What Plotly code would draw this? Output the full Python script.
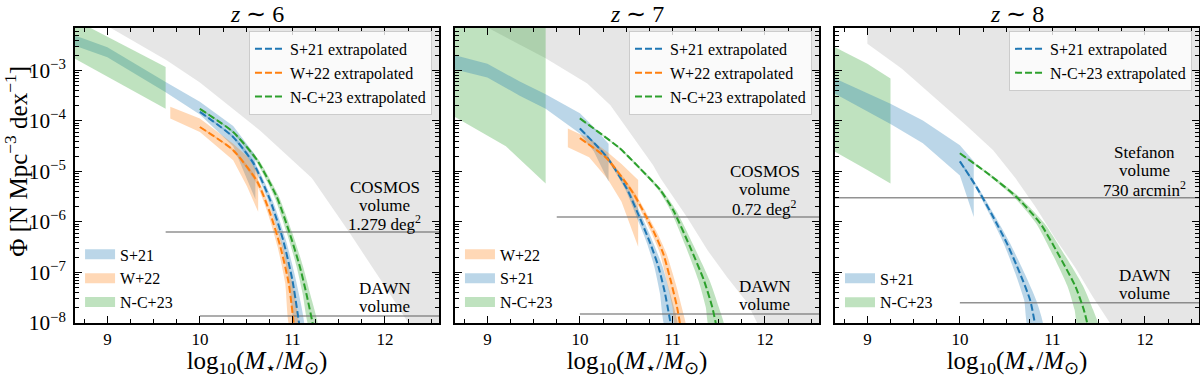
import numpy as np
import plotly.graph_objects as go
from plotly.subplots import make_subplots

FONT = "Liberation Serif"
BLUE, ORANGE, GREEN = "#1f77b4", "#ff7f0e", "#2ca02c"
BLUE_F = "rgba(31,119,180,0.3)"
ORANGE_F = "rgba(255,127,14,0.3)"
GREEN_F = "rgba(44,160,44,0.3)"
GRAY_F = "rgba(128,128,128,0.2)"

X_RANGE = [8.65, 12.585]
LOGPHI_RANGE = [-8.0, -2.16]

# ---------------- z ~ 6 ----------------  (all y values are log10 Phi)
z6_s21_x = [8.65, 9.0, 9.63, 10.0, 10.36, 10.6]
z6_s21_hi = [-2.31, -2.54, -3.23, -3.62, -4.10, -4.68]
z6_s21_lo = [-2.51, -2.74, -3.43, -3.87, -4.50, -5.55]
z6_w22_x = [9.68, 10.0, 10.36, 10.51, 10.63]
z6_w22_hi = [-3.72, -3.95, -4.45, -4.70, -5.04]
z6_w22_lo = [-3.95, -4.22, -4.78, -5.30, -5.80]
z6_nc23_x = [8.65, 9.63]
z6_nc23_hi = [-2.00, -2.93]
z6_nc23_lo = [-2.77, -3.76]

z6_s21_ex_x = [10.0, 10.36, 10.58, 10.76, 10.9, 11.0, 11.08]
z6_s21_ex_y = [-3.82, -4.32, -4.84, -5.57, -6.36, -7.15, -8.1]
z6_s21_ex_dx = [0.01, 0.015, 0.02, 0.025, 0.03, 0.038, 0.045]
z6_w22_ex_x = [10.0, 10.36, 10.62, 10.76, 10.87, 10.96, 11.02]
z6_w22_ex_y = [-4.12, -4.58, -5.2, -5.83, -6.49, -7.21, -8.1]
z6_w22_ex_dx = [0.01, 0.015, 0.02, 0.025, 0.03, 0.038, 0.045]
z6_nc23_ex_x = [10.0, 10.36, 10.62, 10.83, 10.97, 11.08, 11.15, 11.23]
z6_nc23_ex_y = [-3.76, -4.22, -4.78, -5.5, -6.22, -6.88, -7.41, -8.1]
z6_nc23_ex_dx = [0.01, 0.015, 0.02, 0.025, 0.03, 0.035, 0.04, 0.045]

z6_max_x = [9.0, 9.3, 9.64, 10.0, 10.65, 11.21, 11.62, 12.05, 12.27]
z6_max_y = [-2.12, -2.44, -2.80, -3.24, -4.19, -5.13, -6.22, -7.41, -8.05]

z6_survey_from, z6_survey_phi = 9.63, -6.2
z6_dawn_from, z6_dawn_phi = 10.0, -7.86

# ---------------- z ~ 7 ----------------
z7_s21_x = [8.65, 9.0, 9.35, 9.63, 10.0, 10.15, 10.31]
z7_s21_hi = [-2.70, -2.87, -3.22, -3.47, -3.85, -4.12, -4.45]
z7_s21_lo = [-2.98, -3.14, -3.50, -3.76, -4.25, -4.60, -5.20]
z7_w22_x = [9.87, 10.1, 10.3, 10.45, 10.63]
z7_w22_hi = [-4.15, -4.35, -4.62, -4.85, -5.17]
z7_w22_lo = [-4.52, -4.72, -5.15, -5.60, -6.49]
z7_nc23_x = [8.65, 9.2, 9.63]
z7_nc23_hi = [-1.9, -1.95, -2.0]
z7_nc23_lo = [-3.92, -4.50, -5.24]

z7_s21_ex_x = [10.0, 10.29, 10.51, 10.65, 10.76, 10.85, 10.92, 10.99]
z7_s21_ex_y = [-4.15, -4.71, -5.35, -5.93, -6.42, -6.89, -7.41, -8.1]
z7_s21_ex_dx = [0.01, 0.015, 0.02, 0.03, 0.035, 0.045, 0.055, 0.065]
z7_w22_ex_x = [10.0, 10.29, 10.58, 10.79, 10.90, 10.99, 11.05, 11.09]
z7_w22_ex_y = [-4.34, -4.74, -5.44, -6.16, -6.62, -7.22, -7.68, -8.1]
z7_w22_ex_dx = [0.01, 0.015, 0.02, 0.03, 0.035, 0.045, 0.05, 0.055]
z7_nc23_ex_x = [10.0, 10.43, 10.65, 10.87, 11.01, 11.19, 11.34, 11.43, 11.48]
z7_nc23_ex_y = [-3.95, -4.54, -4.94, -5.37, -5.77, -6.49, -7.15, -7.68, -8.1]
z7_nc23_ex_dx = [0.01, 0.012, 0.015, 0.02, 0.03, 0.045, 0.06, 0.07, 0.08]

z7_max_x = [9.0, 9.63, 10.08, 10.33, 10.79, 10.87, 11.16, 11.38, 11.59, 11.81, 11.93]
z7_max_y = [-2.15, -2.76, -3.26, -3.69, -4.87, -5.13, -5.91, -6.56, -7.09, -7.60, -8.05]

z7_survey_from, z7_survey_phi = 9.75, -5.90
z7_dawn_from, z7_dawn_phi = 10.0, -7.82

# ---------------- z ~ 8 ----------------
z8_s21_x = [8.65, 9.25, 9.6, 10.0, 10.15]
z8_s21_hi = [-3.16, -3.66, -3.99, -4.48, -4.80]
z8_s21_lo = [-3.46, -4.06, -4.44, -5.08, -5.90]
z8_nc23_x = [8.65, 9.0, 9.25]
z8_nc23_hi = [-2.54, -2.87, -3.16]
z8_nc23_lo = [-4.61, -4.97, -5.24]

z8_s21_ex_x = [10.0, 10.18, 10.36, 10.51, 10.65, 10.76, 10.82]
z8_s21_ex_y = [-4.80, -5.31, -5.90, -6.43, -7.02, -7.55, -8.1]
z8_s21_ex_dx = [0.01, 0.015, 0.025, 0.035, 0.05, 0.065, 0.08]
z8_nc23_ex_x = [10.0, 10.33, 10.61, 10.87, 11.08, 11.25, 11.34, 11.39]
z8_nc23_ex_y = [-4.64, -5.08, -5.50, -6.03, -6.69, -7.28, -7.74, -8.1]
z8_nc23_ex_dx = [0.01, 0.02, 0.03, 0.045, 0.065, 0.085, 0.1, 0.11]

z8_max_x = [9.0, 9.0, 9.37, 9.76, 10.07, 10.36, 10.60, 10.82, 11.03, 11.25, 11.44, 11.64]
z8_max_y = [-2.0, -2.47, -2.96, -3.59, -4.09, -4.58, -5.13, -5.71, -6.32, -6.91, -7.49, -8.05]

z8_survey_from, z8_survey_phi = 8.65, -5.52
z8_dawn_from, z8_dawn_phi = 10.0, -7.60

titles = ["<i>z</i> ∼ 6", "<i>z</i> ∼ 7", "<i>z</i> ∼ 8"]
survey_labels = [["COSMOS", "volume", "1.279 deg<sup>2</sup>"],
                 ["COSMOS", "volume", "0.72 deg<sup>2</sup>"],
                 ["Stefanon", "volume", "730 arcmin<sup>2</sup>"]]
dawn_label = ["DAWN", "volume"]


def phi(logs):
    return [10.0 ** v for v in logs]


fig = make_subplots(rows=1, cols=3, shared_yaxes=True, horizontal_spacing=0.01423)


def add_region(col, x, y):
    # excluded region: everything above the boundary
    xs = list(x) + [X_RANGE[1] + 0.2, X_RANGE[1] + 0.2, x[0]]
    ys = list(y) + [LOGPHI_RANGE[0] - 0.2, LOGPHI_RANGE[1] + 0.2, LOGPHI_RANGE[1] + 0.2]
    fig.add_trace(go.Scatter(x=xs, y=phi(ys), mode="lines", fill="toself", fillcolor=GRAY_F,
                             line=dict(width=0), showlegend=False, hoverinfo="skip"), row=1, col=col)


def add_band(col, x, hi, lo, color):
    fig.add_trace(go.Scatter(x=list(x) + list(x)[::-1], y=phi(list(hi) + list(lo)[::-1]),
                             mode="lines", fill="toself", fillcolor=color, line=dict(width=0),
                             showlegend=False, hoverinfo="skip"), row=1, col=col)


def add_extrap_band(col, x, y, dx, color):
    left = [a - d for a, d in zip(x, dx)]
    right = [a + d for a, d in zip(x, dx)]
    fig.add_trace(go.Scatter(x=left + right[::-1], y=phi(list(y) + list(y)[::-1]),
                             mode="lines", fill="toself", fillcolor=color,
                             line=dict(width=0, shape="spline", smoothing=0.6),
                             showlegend=False, hoverinfo="skip"), row=1, col=col)


def add_dashed(col, x, y, color, name, legend):
    fig.add_trace(go.Scatter(x=x, y=phi(y), mode="lines", name=name, legend=legend,
                             line=dict(color=color, width=2, dash="7px,3px", shape="spline", smoothing=0.6),
                             hoverinfo="skip"), row=1, col=col)


def add_key(col, name, color, legend):
    fig.add_trace(go.Scatter(x=[None], y=[None], mode="lines", name=name, legend=legend,
                             line=dict(color=color, width=10)), row=1, col=col)


def add_hline(col, x0, logphi):
    fig.add_trace(go.Scatter(x=[x0, X_RANGE[1] + 0.2], y=phi([logphi, logphi]), mode="lines",
                             line=dict(color="rgba(110,110,110,0.75)", width=1.5),
                             showlegend=False, hoverinfo="skip"), row=1, col=col)


# ---- panel 1 ----
add_region(1, z6_max_x, z6_max_y)
add_band(1, z6_s21_x, z6_s21_hi, z6_s21_lo, BLUE_F)
add_band(1, z6_w22_x, z6_w22_hi, z6_w22_lo, ORANGE_F)
add_band(1, z6_nc23_x, z6_nc23_hi, z6_nc23_lo, GREEN_F)
add_extrap_band(1, z6_s21_ex_x, z6_s21_ex_y, z6_s21_ex_dx, BLUE_F)
add_extrap_band(1, z6_w22_ex_x, z6_w22_ex_y, z6_w22_ex_dx, ORANGE_F)
add_extrap_band(1, z6_nc23_ex_x, z6_nc23_ex_y, z6_nc23_ex_dx, GREEN_F)
add_hline(1, z6_survey_from, z6_survey_phi)
add_hline(1, z6_dawn_from, z6_dawn_phi)
add_key(1, "S+21", BLUE_F, "legend")
add_key(1, "W+22", ORANGE_F, "legend")
add_key(1, "N-C+23", GREEN_F, "legend")
add_dashed(1, z6_s21_ex_x, z6_s21_ex_y, BLUE, "S+21 extrapolated", "legend2")
add_dashed(1, z6_w22_ex_x, z6_w22_ex_y, ORANGE, "W+22 extrapolated", "legend2")
add_dashed(1, z6_nc23_ex_x, z6_nc23_ex_y, GREEN, "N-C+23 extrapolated", "legend2")

# ---- panel 2 ----
add_region(2, z7_max_x, z7_max_y)
add_band(2, z7_nc23_x, z7_nc23_hi, z7_nc23_lo, GREEN_F)
add_band(2, z7_s21_x, z7_s21_hi, z7_s21_lo, BLUE_F)
add_band(2, z7_w22_x, z7_w22_hi, z7_w22_lo, ORANGE_F)
add_extrap_band(2, z7_s21_ex_x, z7_s21_ex_y, z7_s21_ex_dx, BLUE_F)
add_extrap_band(2, z7_w22_ex_x, z7_w22_ex_y, z7_w22_ex_dx, ORANGE_F)
add_extrap_band(2, z7_nc23_ex_x, z7_nc23_ex_y, z7_nc23_ex_dx, GREEN_F)
add_hline(2, z7_survey_from, z7_survey_phi)
add_hline(2, z7_dawn_from, z7_dawn_phi)
add_key(2, "W+22", ORANGE_F, "legend3")
add_key(2, "S+21", BLUE_F, "legend3")
add_key(2, "N-C+23", GREEN_F, "legend3")
add_dashed(2, z7_s21_ex_x, z7_s21_ex_y, BLUE, "S+21 extrapolated", "legend4")
add_dashed(2, z7_w22_ex_x, z7_w22_ex_y, ORANGE, "W+22 extrapolated", "legend4")
add_dashed(2, z7_nc23_ex_x, z7_nc23_ex_y, GREEN, "N-C+23 extrapolated", "legend4")

# ---- panel 3 ----
add_region(3, z8_max_x, z8_max_y)
add_band(3, z8_nc23_x, z8_nc23_hi, z8_nc23_lo, GREEN_F)
add_band(3, z8_s21_x, z8_s21_hi, z8_s21_lo, BLUE_F)
add_extrap_band(3, z8_s21_ex_x, z8_s21_ex_y, z8_s21_ex_dx, BLUE_F)
add_extrap_band(3, z8_nc23_ex_x, z8_nc23_ex_y, z8_nc23_ex_dx, GREEN_F)
add_hline(3, z8_survey_from, z8_survey_phi)
add_hline(3, z8_dawn_from, z8_dawn_phi)
add_key(3, "S+21", BLUE_F, "legend5")
add_key(3, "N-C+23", GREEN_F, "legend5")
add_dashed(3, z8_s21_ex_x, z8_s21_ex_y, BLUE, "S+21 extrapolated", "legend6")
add_dashed(3, z8_nc23_ex_x, z8_nc23_ex_y, GREEN, "N-C+23 extrapolated", "legend6")

# ---- axes ----
axis_common = dict(showline=True, linecolor="black", linewidth=1.5, mirror="allticks",
                   ticks="inside", ticklen=7, tickwidth=1.2, tickcolor="black",
                   showgrid=False, zeroline=False, automargin=False,
                   tickfont=dict(family=FONT, size=17, color="black"))
xtitle = "log<sub>10</sub>(<i>M</i><sub>⋆</sub>/<i>M</i><sub>⊙</sub>)"
for c in range(1, 4):
    fig.update_xaxes(range=X_RANGE, tick0=9, dtick=1,
                     minor=dict(dtick=0.25, tick0=0, ticks="inside", ticklen=4, tickwidth=1, tickcolor="black"),
                     title=dict(text=xtitle, standoff=5, font=dict(family=FONT, size=25, color="black")),
                     row=1, col=c, **axis_common)
    fig.update_yaxes(type="log", range=LOGPHI_RANGE, dtick=1, exponentformat="power",
                     minor=dict(dtick="D1", ticks="inside", ticklen=4, tickwidth=1, tickcolor="black"),
                     ticklabelstandoff=4, row=1, col=c, **axis_common)

# ---- text ----
domains = [fig.layout.xaxis.domain, fig.layout.xaxis2.domain, fig.layout.xaxis3.domain]
annotations = []
for i, t in enumerate(titles):
    annotations.append(dict(text=t, x=(domains[i][0] + domains[i][1]) / 2, y=1.048, xref="paper", yref="paper",
                            xanchor="center", yanchor="middle", showarrow=False,
                            font=dict(family=FONT, size=24, color="black")))
survey_phis = [z6_survey_phi, z7_survey_phi, z8_survey_phi]
dawn_phis = [z6_dawn_phi, z7_dawn_phi, z8_dawn_phi]
for i in range(3):
    xr = "x" if i == 0 else "x%d" % (i + 1)
    yr = "y" if i == 0 else "y%d" % (i + 1)
    for lines, lphi in [(survey_labels[i], survey_phis[i]), (dawn_label, dawn_phis[i])]:
        n = len(lines)
        for k, s in enumerate(lines):
            annotations.append(dict(text=s, x=12.0, y=lphi, xref=xr, yref=yr, xanchor="center",
                                    yanchor="middle", yshift=9 + 18 * (n - 1 - k), showarrow=False,
                                    font=dict(family=FONT, size=17, color="black")))
annotations.append(dict(text="Φ [N Mpc<sup>−3</sup> dex<sup>−1</sup>]", textangle=-90,
                        x=-0.0525, y=0.55, xref="paper", yref="paper", xanchor="center", yanchor="middle",
                        showarrow=False, font=dict(family=FONT, size=25, color="black")))

top_legend = dict(xanchor="right", yanchor="top", y=0.99, bgcolor="rgba(255,255,255,0.8)",
                  bordercolor="#cccccc", borderwidth=1, font=dict(family=FONT, size=16, color="black"),
                  tracegroupgap=0)
bot_legend = dict(xanchor="left", yanchor="bottom", y=0.012, bgcolor="rgba(255,255,255,0)",
                  borderwidth=0, font=dict(family=FONT, size=16, color="black"), tracegroupgap=0)

fig.update_layout(
    width=1200, height=378,
    margin=dict(l=75, r=1, t=28, b=55),
    plot_bgcolor="white", paper_bgcolor="white",
    font=dict(family=FONT, color="black"),
    annotations=annotations,
    legend=dict(bot_legend, x=0.0045),
    legend2=dict(top_legend, x=0.3176),
    legend3=dict(bot_legend, x=0.3425),
    legend4=dict(top_legend, x=0.6557),
    legend5=dict(bot_legend, x=0.6806),
    legend6=dict(top_legend, x=0.9938),
)

fig.write_html("out.html", config={"displayModeBar": False},
               post_script="document.body.style.margin='0';")
